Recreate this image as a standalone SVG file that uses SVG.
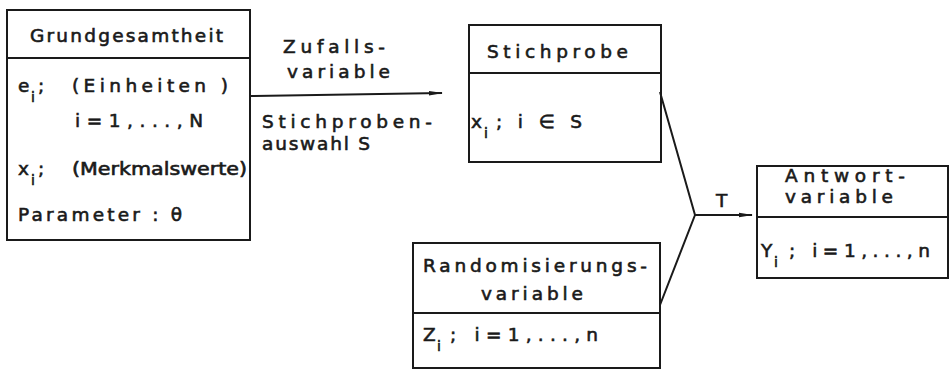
<svg xmlns="http://www.w3.org/2000/svg" width="952" height="379" viewBox="0 0 952 379">
<defs>
<style>
.box{fill:none;stroke:#1a1a1a;stroke-width:2}
.div{stroke:#1a1a1a;stroke-width:2}
.con{stroke:#1a1a1a;stroke-width:2;fill:none}
text{font-family:"DejaVu Sans","Liberation Sans",sans-serif;font-size:18.5px;fill:#1a1a1a;stroke:#1a1a1a;stroke-width:0.6}
.sub{font-size:14px}
.sm{font-size:17px}
</style>
<marker id="arr" viewBox="0 0 14 6" refX="13" refY="3" markerWidth="14" markerHeight="6" markerUnits="userSpaceOnUse" orient="auto">
<path d="M0,0.8 L14,3 L0,5.2 z" fill="#1a1a1a"/>
</marker>
</defs>
<rect width="952" height="379" fill="#fff"/>

<g id="grundgesamtheit">
<rect class="box" x="7" y="10" width="243" height="230"/>
<line class="div" x1="7" y1="58" x2="250" y2="58"/>
<text x="30" y="42" textLength="193" lengthAdjust="spacing">Grundgesamtheit</text>
<text x="18" y="92">e</text><text class="sub" x="31" y="102">i</text><text x="38" y="92">;</text>
<text x="72" y="92" textLength="156" lengthAdjust="spacing">(Einheiten )</text>
<text x="75" y="127" textLength="128" lengthAdjust="spacing">i=1,...,N</text>
<text x="18" y="175">x</text><text class="sub" x="31" y="185">i</text><text x="38" y="175">;</text>
<text class="sm" x="72" y="175" textLength="175" lengthAdjust="spacingAndGlyphs">(Merkmalswerte)</text>
<text x="18" y="221" textLength="164" lengthAdjust="spacing">Parameter : θ</text>
</g>

<g id="stichprobe">
<rect class="box" x="469" y="25" width="192" height="137"/>
<line class="div" x1="469" y1="73" x2="661" y2="73"/>
<text x="487" y="58" textLength="141" lengthAdjust="spacing">Stichprobe</text>
<text x="471" y="128">x</text><text class="sub" x="484" y="138">i</text>
<text x="496" y="128" textLength="86" lengthAdjust="spacing">; i ∈ S</text>
</g>

<g id="randomisierungsvariable">
<rect class="box" x="413" y="243" width="247" height="125"/>
<line class="div" x1="413" y1="313" x2="660" y2="313"/>
<text x="423" y="272" textLength="224" lengthAdjust="spacing">Randomisierungs-</text>
<text x="481" y="300" textLength="102" lengthAdjust="spacing">variable</text>
<text x="423" y="341">Z</text><text class="sub" x="437" y="351">i</text>
<text x="450" y="341" textLength="148" lengthAdjust="spacing">; i=1,...,n</text>
</g>

<g id="antwortvariable">
<rect class="box" x="757" y="166" width="191" height="112"/>
<line class="div" x1="757" y1="217" x2="948" y2="217"/>
<text x="785" y="182" textLength="120" lengthAdjust="spacing">Antwort-</text>
<text x="785" y="203" textLength="108" lengthAdjust="spacing">variable</text>
<text x="761" y="257">Y</text><text class="sub" x="774" y="267">i</text>
<text x="789" y="257" textLength="141" lengthAdjust="spacing">; i=1,...,n</text>
</g>

<g id="connectors">
<line class="con" x1="250" y1="96" x2="442" y2="93" marker-end="url(#arr)"/>
<text x="283" y="53" textLength="102" lengthAdjust="spacing">Zufalls-</text>
<text x="287" y="78" textLength="103" lengthAdjust="spacing">variable</text>
<text x="262" y="128" textLength="170" lengthAdjust="spacing">Stichproben-</text>
<text x="262" y="150" textLength="108" lengthAdjust="spacing">auswahl S</text>
<polyline class="con" points="660,92 695,215 660,305"/>
<line class="con" x1="695" y1="215" x2="752" y2="215" marker-end="url(#arr)"/>
<text x="716" y="207">T</text>
</g>
</svg>
